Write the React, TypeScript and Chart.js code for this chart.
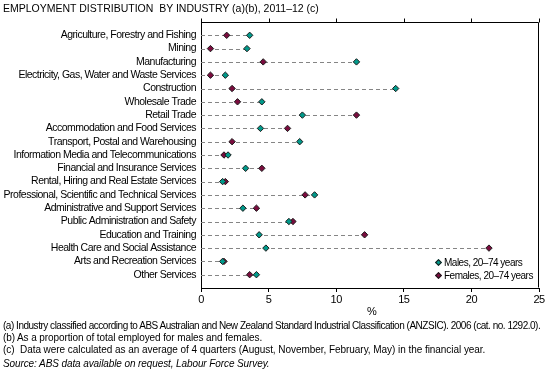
import React, { useEffect, useRef } from "react";
import { Chart, registerables } from "chart.js";

Chart.register(...registerables);

const categories = [
  "Agriculture, Forestry and Fishing",
  "Mining",
  "Manufacturing",
  "Electricity, Gas, Water and Waste Services",
  "Construction",
  "Wholesale Trade",
  "Retail Trade",
  "Accommodation and Food Services",
  "Transport, Postal and Warehousing",
  "Information Media and Telecommunications",
  "Financial and Insurance Services",
  "Rental, Hiring and Real Estate Services",
  "Professional, Scientific and Technical Services",
  "Administrative and Support Services",
  "Public Administration and Safety",
  "Education and Training",
  "Health Care and Social Assistance",
  "Arts and Recreation Services",
  "Other Services",
];

const males = [3.6, 3.4, 11.5, 1.8, 14.4, 4.5, 7.5, 4.4, 7.3, 2.0, 3.3, 1.6, 8.4, 3.1, 6.5, 4.3, 4.8, 1.6, 4.1];
const females = [1.9, 0.7, 4.6, 0.7, 2.3, 2.7, 11.5, 6.4, 2.3, 1.7, 4.5, 1.8, 7.7, 4.1, 6.8, 12.1, 21.3, 1.7, 3.6];

const xMin = 0;
const xMax = 25;
const xStep = 5;

const maleLabel = "Males, 20\u201374 years";
const femaleLabel = "Females, 20\u201374 years";

const MALE_COLOR = "#00998a";
const FEMALE_COLOR = "#7a0c3e";
const FONT = "'Liberation Sans', Arial, sans-serif";

const dashPlugin = {
  id: "dashRows",
  beforeDraw(chart: any) {
    chart.ctx.letterSpacing = "-0.5px";
  },
  beforeDatasetsDraw(chart: any) {
    const { ctx, scales } = chart;
    const xs = scales.x;
    const ys = scales.y;
    ctx.save();
    ctx.strokeStyle = "#858585";
    ctx.lineWidth = 1;
    ctx.setLineDash([4, 3]);
    categories.forEach((_, i) => {
      const m = Math.max(males[i], females[i]);
      const y = Math.round(ys.getPixelForValue(i)) + 0.5;
      ctx.beginPath();
      ctx.moveTo(xs.getPixelForValue(0), y);
      ctx.lineTo(xs.getPixelForValue(m), y);
      ctx.stroke();
    });
    ctx.restore();
  },
  afterDraw(chart: any) {
    const { ctx, chartArea, scales } = chart;
    const xs = scales.x;
    ctx.save();
    ctx.strokeStyle = "#000";
    ctx.lineWidth = 1;
    ctx.setLineDash([]);
    const l = Math.round(chartArea.left) + 0.5;
    const r = Math.round(chartArea.right) - 0.5;
    const t = Math.round(chartArea.top) + 0.5;
    const b = Math.round(chartArea.bottom) - 0.5;
    ctx.beginPath();
    ctx.moveTo(l, t);
    ctx.lineTo(r, t);
    ctx.lineTo(r, b);
    ctx.stroke();
    xs.ticks.forEach((tk: any) => {
      const x = Math.round(xs.getPixelForValue(tk.value)) + 0.5;
      ctx.beginPath();
      ctx.moveTo(x, t);
      ctx.lineTo(x, t - 4);
      ctx.stroke();
    });
    ctx.restore();
    ctx.letterSpacing = "0px";
  },
};

export default function App() {
  const ref = useRef<HTMLCanvasElement | null>(null);

  useEffect(() => {
    document.body.style.margin = "0";
    const canvas = ref.current;
    if (!canvas) return;
    const chart = new Chart(canvas, {
      type: "scatter",
      data: {
        datasets: [
          {
            label: maleLabel,
            data: males.map((v, i) => ({ x: v, y: i })),
            pointStyle: "rectRot",
            pointRadius: 3.2,
            pointBorderWidth: 1,
            backgroundColor: MALE_COLOR,
            borderColor: "#1b1b1b",
          },
          {
            label: femaleLabel,
            data: females.map((v, i) => ({ x: v, y: i })),
            pointStyle: "rectRot",
            pointRadius: 3.2,
            pointBorderWidth: 1,
            backgroundColor: FEMALE_COLOR,
            borderColor: "#1b1b1b",
          },
        ],
      },
      options: {
        animation: false,
        responsive: false,
        maintainAspectRatio: false,
        devicePixelRatio: 1,
        layout: { padding: { top: 22, right: 9, bottom: 0, left: 0 } },
        plugins: {
          legend: { display: false },
          tooltip: { enabled: false },
          title: { display: false },
        },
        scales: {
          x: {
            type: "linear",
            min: xMin,
            max: xMax,
            ticks: {
              stepSize: xStep,
              color: "#000",
              font: { family: FONT, size: 11 },
              padding: 1,
            },
            grid: {
              drawOnChartArea: false,
              drawTicks: true,
              tickLength: 4,
              color: "#000",
            },
            border: { display: true, color: "#000", width: 1 },
            afterFit: (s: any) => {
              s.height = 90;
            },
          },
          y: {
            type: "linear",
            reverse: true,
            min: -1,
            max: 19,
            afterBuildTicks: (s: any) => {
              s.ticks = categories.map((_, i) => ({ value: i }));
            },
            ticks: {
              autoSkip: false,
              color: "#000",
              font: { family: FONT, size: 10.5 },
              padding: 5,
              callback: (v: any) => {
                const i = Number(v);
                return Number.isInteger(i) && i >= 0 && i < categories.length ? categories[i] : "";
              },
            },
            grid: { display: false, drawTicks: false },
            border: { display: true, color: "#000", width: 1 },
            afterFit: (s: any) => {
              s.width = 201;
            },
          },
        },
      },
      plugins: [dashPlugin],
    });
    return () => chart.destroy();
  }, []);

  const txt: React.CSSProperties = {
    position: "absolute",
    fontFamily: FONT,
    color: "#000",
    whiteSpace: "pre",
    lineHeight: 1,
  };
  const diamond = (c: string, left: number, top: number): React.CSSProperties => ({
    position: "absolute",
    left,
    top,
    width: 3,
    height: 3,
    background: c,
    border: "1px solid #1b1b1b",
    transform: "rotate(45deg)",
  });

  return (
    <div style={{ position: "relative", width: 548, height: 378, background: "#fff", overflow: "hidden" }}>
      <canvas ref={ref} width={548} height={378} style={{ position: "absolute", left: 0, top: 0, width: 548, height: 378 }} />
      <div style={{ ...txt, left: 3, top: 3, fontSize: 10.5 }}>
        {"EMPLOYMENT DISTRIBUTION  BY INDUSTRY (a)(b), 2011\u201312 (c)"}
      </div>
      <div style={diamond(MALE_COLOR, 436, 260)} />
      <div style={{ ...txt, left: 444, top: 258, fontSize: 10, letterSpacing: "-0.5px" }}>{maleLabel}</div>
      <div style={diamond(FEMALE_COLOR, 436, 273)} />
      <div style={{ ...txt, left: 444, top: 271, fontSize: 10, letterSpacing: "-0.5px" }}>{femaleLabel}</div>
      <div style={{ ...txt, left: 367, top: 306, fontSize: 11 }}>%</div>
      <div style={{ ...txt, left: 3, top: 321, fontSize: 10, letterSpacing: "-0.48px" }}>
        {"(a) Industry classified according to ABS Australian and New Zealand Standard Industrial Classification (ANZSIC). 2006 (cat. no. 1292.0)."}
      </div>
      <div style={{ ...txt, left: 3, top: 333, fontSize: 10, letterSpacing: "-0.1px" }}>
        {"(b) As a proportion of total employed for males and females."}
      </div>
      <div style={{ ...txt, left: 3, top: 345, fontSize: 10, letterSpacing: "-0.05px" }}>
        {"(c)  Data were calculated as an average of 4 quarters (August, November, February, May) in the financial year."}
      </div>
      <div style={{ ...txt, left: 3, top: 359, fontSize: 10, fontStyle: "italic", letterSpacing: "-0.1px" }}>
        {"Source: ABS data available on request, Labour Force Survey."}
      </div>
    </div>
  );
}
